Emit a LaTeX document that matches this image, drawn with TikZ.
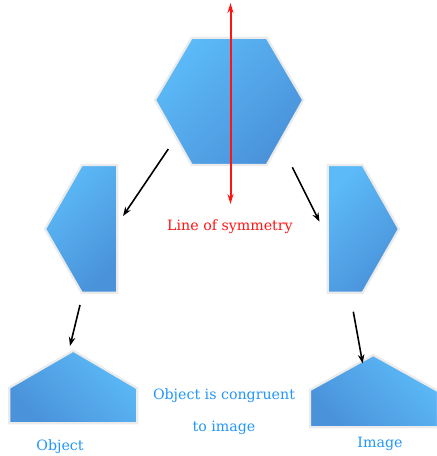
\documentclass[tikz,border=0pt]{standalone}
\usepackage{fontspec}
\setmainfont{DejaVu Serif}
\usetikzlibrary{arrows.meta}
\definecolor{lightb}{RGB}{92,186,248}
\definecolor{darkb}{RGB}{74,146,218}
\definecolor{txtb}{RGB}{33,150,250}
\definecolor{symred}{RGB}{255,20,20}
\tikzset{
  shapeA/.style={draw=black!8, line width=2.2pt, line join=miter, top color=lightb, bottom color=darkb, shading angle=45},
  shapeB/.style={draw=black!8, line width=2.2pt, line join=miter, top color=lightb, bottom color=darkb, shading angle=-45},
  conn/.style={-{Stealth[length=9pt,width=6.5pt]}, line width=1.6pt, black},
  symline/.style={{Stealth[length=10pt,width=6pt]}-{Stealth[length=10pt,width=6pt]}, line width=2pt, symred},
  lbl/.style={font=\fontsize{14.2}{16}\selectfont, text=txtb, inner sep=0pt},
}
\begin{document}
\begin{tikzpicture}[x=1pt,y=-1pt]
\useasboundingbox (0,0) rectangle (437,456);
% top hexagon
\shade[shapeA] (191.7,37.7) -- (266.7,37.7) -- (303.3,100) -- (266.7,165) -- (191.7,165) -- (155,100) -- cycle;
% left half
\shade[shapeA] (81.7,165) -- (117.3,165) -- (117.3,292.7) -- (81.7,292.7) -- (45,229) -- cycle;
% right half
\shade[shapeA] (327.7,165) -- (362.7,165) -- (399,229) -- (362.7,292.7) -- (327.7,292.7) -- cycle;
% bottom left pentagon
\shade[shapeB] (9.3,423.3) -- (9.3,387.7) -- (73.3,350.7) -- (137.3,388.3) -- (137.3,423.3) -- cycle;
% bottom right pentagon
\shade[shapeB] (310,427.3) -- (310,390) -- (373.3,355) -- (438,391) -- (438,427.3) -- cycle;
% coordinates
\coordinate (symtop) at (230.5,3);
\coordinate (symbot) at (230.5,204);
\coordinate (a1s) at (168.3,149);
\coordinate (a1e) at (123,216);
\coordinate (a2s) at (292.3,167.3);
\coordinate (a2e) at (319.5,221.7);
\coordinate (a3s) at (80,305);
\coordinate (a3e) at (70,346);
\coordinate (a4s) at (353.3,311.7);
\coordinate (a4e) at (362.7,363.5);
\draw[symline] (symtop) -- (symbot);
\draw[conn] (a1s) -- (a1e);
\draw[conn] (a2s) -- (a2e);
\draw[conn] (a3s) -- (a3e);
\draw[conn] (a4s) -- (a4e);
\node[lbl, text=symred] (los) at (230,227) {Line of symmetry};
\node[lbl] (cong1) at (224,396) {Object is congruent};
\node[lbl] (cong2) at (224,428) {to image};
\node[lbl] (obj) at (60,447) {Object};
\node[lbl] (img) at (380,444) {Image};
\end{tikzpicture}
\end{document}
